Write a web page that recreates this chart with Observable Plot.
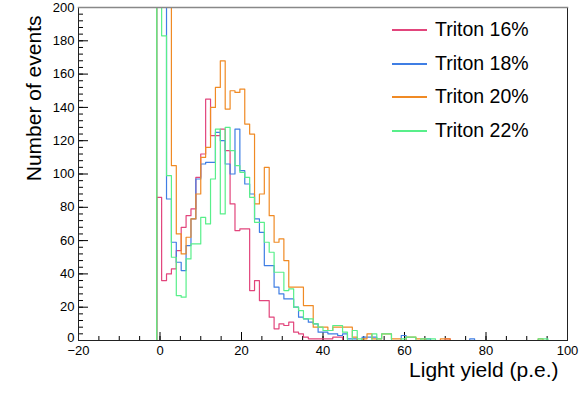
<!DOCTYPE html>
<html>
<head>
<meta charset="utf-8">
<script src="https://cdn.jsdelivr.net/npm/d3@7"></script>
<script src="https://cdn.jsdelivr.net/npm/@observablehq/plot@0.6"></script>
<style>
  body { margin: 0; background: #fff; }
  #chart { position: relative; width: 581px; height: 396px; font-family: "Liberation Sans", Arial, Helvetica, sans-serif; }
  #chart svg { display: block; }
  .legend { position: absolute; left: 392px; top: 14px; }
  .legend .row { position: relative; height: 33.5px; }
  .legend .swatch { position: absolute; left: 0; top: 15px; width: 35px; height: 0; border-top: 2px solid; }
  .legend .label { position: absolute; left: 43px; top: 4px; font-size: 19.5px; line-height: 22px; color: #000; white-space: nowrap; }
</style>
</head>
<body>
<div id="chart"></div>
<script>
// Histogram binning: 100 bins from -20 to 100 p.e.
const xMin = -20;
const binWidth = 1.2;

// Event counts per bin (bins 0..99)
const triton16 = [
  0,0,0,0,0,0,0,0,0,0,
  0,0,0,0,0,0,86,36,40,43,
  54,68,75,79,98,112,145,123,123,127,
  114,82,66,67,67,30,36,24,24,14,
  7,10,9,11,5,4,2,1,1,1,
  1,1,2,2,0,0,0,0,0,0,
  0,0,0,0,0,0,0,0,0,0,
  0,0,0,0,0,1,0,0,0,0,
  0,0,0,0,0,0,0,0,0,0,
  0,0,0,0,0,0,0,0,0,0
];
const triton18 = [
  0,0,0,0,0,0,0,0,0,0,
  0,0,0,0,0,0,240,240,85,59,
  47,42,57,73,97,106,107,107,125,120,
  106,100,127,102,94,88,73,65,45,45,
  32,28,25,25,20,14,13,11,10,5,
  5,4,4,3,4,1,1,0,2,2,
  2,0,0,0,0,0,3,0,0,0,
  0,1,0,0,0,0,0,0,0,0,
  1,0,0,0,0,0,0,0,0,0,
  0,0,0,0,0,0,0,0,0,0
];
const triton20 = [
  0,0,0,0,0,0,0,0,0,0,
  0,0,0,0,0,0,240,240,240,105,
  64,52,62,73,88,110,116,140,152,168,
  139,150,149,151,130,124,82,88,104,75,
  59,61,48,32,32,32,21,21,8,8,
  8,6,8,8,8,8,2,0,1,4,
  1,1,4,4,1,1,0,2,2,1,
  1,0,0,0,1,1,0,0,0,0,
  0,0,0,0,0,0,0,0,0,0,
  0,0,0,0,1,0,0,0,0,0
];
const triton22 = [
  0,0,0,0,0,0,0,0,0,0,
  0,0,0,0,0,0,240,183,99,50,
  27,26,49,58,58,74,70,97,127,76,
  128,114,105,101,98,86,71,71,59,53,
  41,41,30,31,20,18,13,13,10,8,
  6,6,9,9,5,0,6,1,0,0,
  4,1,4,4,0,0,1,2,2,0,
  1,1,1,0,0,0,0,0,0,0,
  0,0,0,0,0,0,0,0,0,0,
  0,0,0,0,1,1,0,0,0,0
];

const seriesNames = ["Triton 16%", "Triton 18%", "Triton 20%", "Triton 22%"];
const seriesColors = ["#e2457c", "#3f7ee4", "#f08a24", "#58ef8a"];
const seriesCounts = [triton16, triton18, triton20, triton22];

const xTicks = [-20, 0, 20, 40, 60, 80, 100];
const xMinorTicks = d3.range(-20, 100.01, 5);
const yTicks = [0, 20, 40, 60, 80, 100, 120, 140, 160, 180, 200];
const yMinorTicks = d3.range(0, 200.01, 4);

// Turn bin counts into step outlines (left edge of each bin + closing edge)
function stepPoints(counts, name) {
  const pts = counts.map((c, i) => ({x: xMin + i * binWidth, y: c, name}));
  pts.push({x: xMin + counts.length * binWidth, y: counts[counts.length - 1], name});
  return pts;
}

const W = 581, H = 396;
const mL = 78, mR = 14, mT = 7, mB = 56;
const frameW = W - mL - mR, frameH = H - mT - mB;

const marks = [];
// minor and major ticks drawn inward from the bottom and left axes
marks.push(Plot.tickX(xMinorTicks, {x: d => d, insetTop: frameH - 4, stroke: "#000", strokeWidth: 1}));
marks.push(Plot.tickX(xTicks, {x: d => d, insetTop: frameH - 8, stroke: "#000", strokeWidth: 1}));
marks.push(Plot.tickY(yMinorTicks, {y: d => d, insetRight: frameW - 5, stroke: "#000", strokeWidth: 1}));
marks.push(Plot.tickY(yTicks, {y: d => d, insetRight: frameW - 10, stroke: "#000", strokeWidth: 1}));

seriesCounts.forEach((counts, k) => {
  marks.push(Plot.lineY(stepPoints(counts, seriesNames[k]), {
    x: "x", y: "y", curve: "step-after",
    stroke: seriesColors[k], strokeWidth: 1.2, clip: true
  }));
});

// frame: dark axes on bottom/left/right, lighter line along the top
marks.push(Plot.frame({stroke: "#222", strokeWidth: 1}));
marks.push(Plot.frame({anchor: "top", stroke: "#888", strokeWidth: 1.5}));
marks.push(Plot.axisX({ticks: xTicks, tickSize: 0, tickPadding: 5, label: null, fontSize: 13}));
// the zero label sits a little higher so it clears the x-axis labels
marks.push(Plot.axisY({ticks: yTicks.filter(t => t !== 0), tickSize: 0, tickPadding: 4, label: null, fontSize: 13}));
marks.push(Plot.axisY({ticks: [0], tickSize: 0, tickPadding: 4, dy: -3, label: null, fontSize: 13}));
marks.push(Plot.text(["Light yield (p.e.)"], {
  frameAnchor: "bottom-right", dx: -9, dy: 36, textAnchor: "end", fontSize: 21, fill: "#000"
}));
marks.push(Plot.text(["Number of events"], {
  frameAnchor: "top-left", rotate: -90, textAnchor: "end", dx: -52, dy: 8, fontSize: 21, fill: "#000"
}));

const chart = Plot.plot({
  width: W, height: H,
  marginLeft: mL, marginRight: mR, marginTop: mT, marginBottom: mB,
  x: {domain: [-20, 100]},
  y: {domain: [0, 200]},
  style: {fontFamily: "'Liberation Sans', Arial, Helvetica, sans-serif", fontSize: "13px", color: "#000", background: "#fff"},
  marks
});

const root = document.getElementById("chart");
root.appendChild(chart);

// Legend in the upper right
const legend = document.createElement("div");
legend.className = "legend";
seriesNames.forEach((name, k) => {
  const row = document.createElement("div");
  row.className = "row";
  const sw = document.createElement("div");
  sw.className = "swatch";
  sw.style.borderTopColor = seriesColors[k];
  const lab = document.createElement("div");
  lab.className = "label";
  lab.textContent = name;
  row.appendChild(sw);
  row.appendChild(lab);
  legend.appendChild(row);
});
root.appendChild(legend);
</script>
</body>
</html>
